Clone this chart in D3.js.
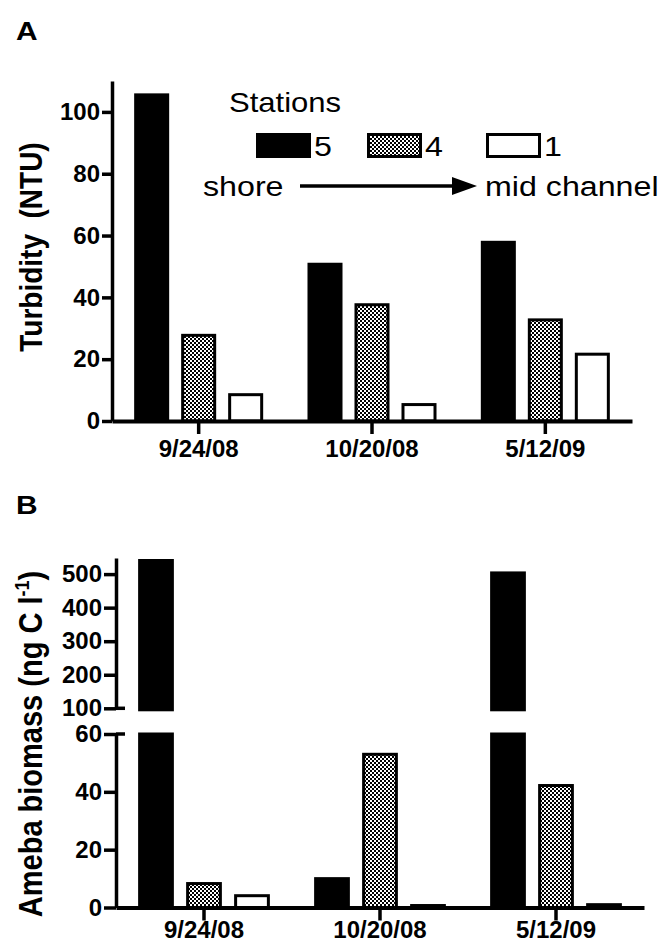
<!DOCTYPE html>
<html>
<head>
<meta charset="utf-8">
<script src="https://cdn.jsdelivr.net/npm/d3@7"></script>
<style>
  body { margin: 0; background: #fff; }
  svg { display: block; font-family: "Liberation Sans", Arial, sans-serif; }
</style>
</head>
<body>
<svg id="chart" width="666" height="943"></svg>
<script>
const dates = ["9/24/08", "10/20/08", "5/12/09"];
const stations = ["5", "4", "1"];

// panel A, turbidity (NTU) by station
const turbidity5 = [106, 51.2, 58.3];
const turbidity4 = [28.2, 38.1, 33.2];
const turbidity1 = [9, 5.8, 22.1];
const turbTicks = [0, 20, 40, 60, 80, 100];

// panel B, ameba biomass (ng C l-1) by station
const biomass5 = [545, 10.5, 508];
const biomass4 = [8.8, 53.5, 42.7];
const biomass1 = [4.6, 1.2, 1.5];
const bioLowTicks = [0, 20, 40, 60];
const bioHighTicks = [100, 200, 300, 400, 500];

const svg = d3.select("#chart");
const SX = 1.15; // source figure is stretched horizontally

const defs = svg.append("defs");
const pat = defs.append("pattern")
    .attr("id", "check")
    .attr("width", 4).attr("height", 4)
    .attr("patternUnits", "userSpaceOnUse");
pat.append("rect").attr("width", 4).attr("height", 4).attr("fill", "#fff");
pat.append("rect").attr("width", 2).attr("height", 2).attr("fill", "#000");
pat.append("rect").attr("x", 2).attr("y", 2).attr("width", 2).attr("height", 2).attr("fill", "#000");

const fills = { "5": "#000", "4": "url(#check)", "1": "#fff" };

function label(x, y, txt, size, weight, sx) {
    return svg.append("text")
        .attr("transform", `translate(${x},${y}) scale(${sx || SX},1)`)
        .style("font-size", size + "px")
        .style("font-weight", weight || "normal")
        .text(txt);
}

function styleAxis(g) {
    g.select(".domain").attr("stroke-width", 3.5);
    g.selectAll(".tick line").attr("stroke-width", 3.5);
    g.selectAll(".tick text")
        .style("font-size", "24px")
        .style("font-weight", "bold")
        .attr("fill", "#000");
}

function bottomLabels(g, baseline) {
    g.selectAll(".tick text").attr("y", baseline).attr("dy", 0);
}

function drawBar(g, cx, bw, yTop, yBottom, fill) {
    g.append("rect")
        .attr("x", cx - bw / 2 + 1.5)
        .attr("y", yTop + 1.5)
        .attr("width", bw - 3)
        .attr("height", Math.max(0, yBottom - yTop - 1.5))
        .attr("fill", fill)
        .attr("stroke", "#000")
        .attr("stroke-width", 3);
}

// ---------- Panel A ----------
const xA = d3.scaleBand().domain(dates).range([112, 632]).padding(0);
const xInA = d3.scaleBand().domain(stations).range([-70.5, 70.5])
    .paddingInner(0.255).paddingOuter(0.1275);
const yA = d3.scaleLinear().domain([0, 110]).range([421, 81]);

const turbRows = dates.map((d, i) => ({ date: d, "5": turbidity5[i], "4": turbidity4[i], "1": turbidity1[i] }));

const barsA = svg.append("g");
turbRows.forEach(r => {
    stations.forEach(s => {
        const cx = xA(r.date) + xA.bandwidth() / 2 + xInA(s) + xInA.bandwidth() / 2;
        drawBar(barsA, cx, xInA.bandwidth(), yA(r[s]), yA(0), fills[s]);
    });
});

const axA = svg.append("g")
    .attr("transform", `translate(0,${yA(0)})`)
    .call(d3.axisBottom(xA).tickSize(13).tickSizeOuter(0));
styleAxis(axA);
bottomLabels(axA, 36);
axA.select(".domain").attr("stroke-width", 4);

const ayA = svg.append("g")
    .attr("transform", "translate(112,0)")
    .call(d3.axisLeft(yA).tickValues(turbTicks).tickSize(10).tickSizeOuter(0).tickPadding(2)
        .tickFormat(d3.format("d")));
styleAxis(ayA);

svg.append("text")
    .attr("transform", "translate(42,247) rotate(-90) scale(1,1.15)")
    .attr("text-anchor", "middle")
    .style("font-size", "28px")
    .style("font-weight", "bold")
    .style("white-space", "pre")
    .text("Turbidity  (NTU)");

label(16, 40, "A", 26, "bold");

// legend
label(229, 112, "Stations", 27);
const legX = [256, 367, 486];
stations.forEach((s, i) => {
    svg.append("rect")
        .attr("x", legX[i] + 1.5).attr("y", 134.5)
        .attr("width", 52).attr("height", 22)
        .attr("fill", fills[s])
        .attr("stroke", "#000").attr("stroke-width", 3);
    label(legX[i] + 58, 156, s, 28);
});

label(203, 196, "shore", 28);
svg.append("line")
    .attr("x1", 300).attr("x2", 456)
    .attr("y1", 186).attr("y2", 186)
    .attr("stroke", "#000").attr("stroke-width", 3.5);
svg.append("path")
    .attr("d", "M452,177 L477,186 L452,195 Z")
    .attr("fill", "#000");
label(485, 196, "mid channel", 28);

// ---------- Panel B ----------
const xB = d3.scaleBand().domain(dates).range([116, 644]).padding(0);
const xInB = d3.scaleBand().domain(stations).range([-72, 72])
    .paddingInner(0.255).paddingOuter(0.1275);
const yLow = d3.scaleLinear().domain([0, 60]).range([907.5, 734]);
const yHigh = d3.scaleLinear().domain([100, 548]).range([708.3, 558]);

const bioRows = dates.map((d, i) => ({ date: d, "5": biomass5[i], "4": biomass4[i], "1": biomass1[i] }));

const barsB = svg.append("g");
bioRows.forEach(r => {
    stations.forEach(s => {
        const cx = xB(r.date) + xB.bandwidth() / 2 + xInB(s) + xInB.bandwidth() / 2;
        const bw = xInB.bandwidth();
        const v = r[s];
        if (v > 60) {
            drawBar(barsB, cx, bw, yLow(60) - 1.5, yLow(0), fills[s]);
            drawBar(barsB, cx, bw, yHigh(v), yHigh(100) + 1.5, fills[s]);
        } else {
            drawBar(barsB, cx, bw, yLow(v), yLow(0), fills[s]);
        }
    });
});

const axB = svg.append("g")
    .attr("transform", `translate(0,${yLow(0)})`)
    .call(d3.axisBottom(xB).tickSize(13).tickSizeOuter(0));
styleAxis(axB);
bottomLabels(axB, 30);
axB.select(".domain").attr("stroke-width", 4);

const ayLow = svg.append("g")
    .attr("transform", "translate(116,0)")
    .call(d3.axisLeft(yLow).tickValues(bioLowTicks).tickSize(12).tickSizeOuter(0).tickPadding(2));
styleAxis(ayLow);

const ayHigh = svg.append("g")
    .attr("transform", "translate(116,0)")
    .call(d3.axisLeft(yHigh).tickValues(bioHighTicks).tickSize(12).tickSizeOuter(0).tickPadding(2));
styleAxis(ayHigh);

// break marks reaching right of the axis
[yHigh(100), yLow(60)].forEach(y => {
    svg.append("line")
        .attr("x1", 116).attr("x2", 125)
        .attr("y1", y).attr("y2", y)
        .attr("stroke", "#000").attr("stroke-width", 3.5);
});

const tB = svg.append("text")
    .attr("transform", "translate(42,744) rotate(-90) scale(1,1.15)")
    .attr("text-anchor", "middle")
    .style("font-size", "29px")
    .style("font-weight", "bold");
tB.append("tspan").text("Ameba biomass (ng C l");
tB.append("tspan").attr("dy", -11).style("font-size", "18px").text("-1");
tB.append("tspan").attr("dy", 11).text(")");

label(16, 514, "B", 26, "bold");
</script>
</body>
</html>
